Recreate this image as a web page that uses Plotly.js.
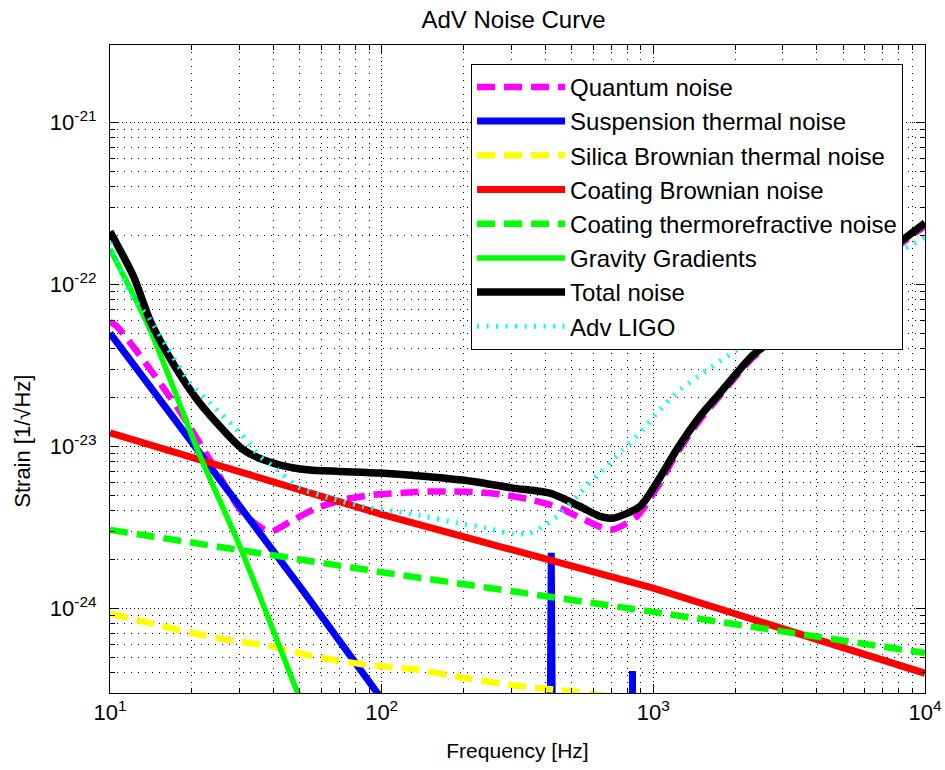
<!DOCTYPE html>
<html>
<head>
<meta charset="utf-8">
<script src="https://cdn.plot.ly/plotly-3.0.1.min.js"></script>
<style>
  html, body { margin: 0; padding: 0; background: #ffffff; }
  #chart { width: 945px; height: 770px; }
</style>
</head>
<body>
<div id="chart"></div>
<script>
// ---------------- data ----------------
const quantumFreq = [10, 10.6, 17.6, 23.3, 30.9, 38.8, 47.3, 57.6, 72.2, 93.1, 113.6, 146.4, 183.4, 230, 280, 354, 445.6, 541.4, 698, 868, 1028, 1218, 1484, 1758, 2026, 2333, 3000, 4000, 6000, 8000, 10000];
const quantumStrain = [5.87e-23, 5.5e-23, 1.76e-23, 8.26e-24, 3.87e-24, 2.98e-24, 3.52e-24, 4.15e-24, 4.67e-24, 5.02e-24, 5.14e-24, 5.26e-24, 5.26e-24, 5.19e-24, 5.02e-24, 4.68e-24, 4.2e-24, 3.61e-24, 3.05e-24, 3.68e-24, 5.5e-24, 9.0e-24, 1.46e-23, 2.05e-23, 2.73e-23, 3.55e-23, 4.9e-23, 7.1e-23, 1.2e-22, 1.74e-22, 2.29e-22];

const suspFreq = [10, 50.2, 96.4, 200, 413, 418, 421, 424, 429, 600, 832, 838, 844, 1000, 10000];
const suspStrain = [5.0e-23, 1.35e-24, 3.0e-25, 5.8e-26, 1.5e-26, 1.3e-24, 2.2e-24, 1.3e-24, 1.4e-26, 6.0e-27, 3.0e-27, 4.1e-25, 3.0e-27, 2.0e-27, 1.3e-29];

const silicaFreq = [10, 20, 28.4, 40, 54.7, 85.9, 133, 213, 326, 511, 700];
const silicaStrain = [9.3e-25, 7.05e-25, 6.3e-25, 5.8e-25, 5.1e-25, 4.5e-25, 4.2e-25, 3.66e-25, 3.3e-25, 3.06e-25, 2.85e-25];

const coatBrownFreq = [10, 100, 1000, 10000];
const coatBrownStrain = [1.21e-23, 3.8e-24, 1.33e-24, 3.97e-25];

const coatTRFreq = [10, 100, 1000, 10000];
const coatTRStrain = [3.05e-24, 1.67e-24, 9.5e-25, 5.3e-25];

const gravFreq = [10, 14, 21.4, 30.1, 48.7, 60];
const gravStrain = [1.65e-22, 5.3e-23, 8.8e-24, 2.4e-24, 3.1e-25, 1.3e-25];

const totalFreq = [10, 12.2, 14.0, 16.2, 18.6, 21.4, 31, 39.9, 52.9, 70.2, 98.5, 146, 217, 304, 416, 537, 636, 710, 893, 1028, 1218, 1484, 1758, 2026, 2333, 3000, 4000, 6000, 8000, 10000];
const totalStrain = [2.12e-22, 1.12e-22, 6.05e-23, 3.77e-23, 2.58e-23, 1.85e-23, 9.5e-24, 7.87e-24, 7.16e-24, 7.0e-24, 6.84e-24, 6.51e-24, 6.07e-24, 5.52e-24, 5.14e-24, 4.25e-24, 3.69e-24, 3.6e-24, 4.25e-24, 5.93e-24, 9.5e-24, 1.53e-23, 2.13e-23, 2.83e-23, 3.67e-23, 5.08e-23, 7.36e-23, 1.24e-22, 1.8e-22, 2.39e-22];

const advFreq = [10, 11.85, 14.03, 16.17, 19.7, 23.33, 30.1, 35.65, 39.9, 50.03, 64.5, 85.6, 113.5, 146.4, 188.8, 243.5, 304, 351.4, 392.5, 441.6, 537, 636, 772.7, 916, 1057, 1253, 1522, 1866, 2500, 4000, 6000, 8000, 10000];
const advStrain = [1.81e-22, 8.83e-23, 6.05e-23, 4.14e-23, 2.46e-23, 1.85e-23, 1.21e-23, 8.65e-24, 7.5e-24, 5.54e-24, 4.79e-24, 4.25e-24, 3.95e-24, 3.68e-24, 3.36e-24, 3.13e-24, 2.88e-24, 2.92e-24, 3.2e-24, 3.68e-24, 5.14e-24, 6.84e-24, 9.53e-24, 1.27e-23, 1.68e-23, 2.23e-23, 2.83e-23, 3.59e-23, 4.9e-23, 7.85e-23, 1.17e-22, 1.58e-22, 1.95e-22];

const seriesNames = ['Quantum noise', 'Suspension thermal noise', 'Silica Brownian thermal noise', 'Coating Brownian noise', 'Coating thermorefractive noise', 'Gravity Gradients', 'Total noise', 'Adv LIGO'];

const xTickVals = [10, 100, 1000, 10000];
const xTickText = ['10<sup>1</sup>', '10<sup>2</sup>', '10<sup>3</sup>', '10<sup>4</sup>'];
const yTickVals = [1e-24, 1e-23, 1e-22, 1e-21];
const yTickText = ['10<sup>-24</sup>', '10<sup>-23</sup>', '10<sup>-22</sup>', '10<sup>-21</sup>'];

const chartTitle = 'AdV Noise Curve';
const xTitle = 'Frequency [Hz]';
const yTitle = 'Strain [1/√Hz]';

// ---------------- minor tick positions (2..9 per decade) ----------------
function minorVals(lo, hi) {
  const out = [];
  for (let e = lo; e <= hi; e++) {
    for (let d = 2; d <= 9; d++) out.push(d * Math.pow(10, e));
  }
  return out;
}

const FONT = 'Liberation Sans, Arial, Helvetica, sans-serif';
const DASH = '18px,9px';

const styles = [
  {color: '#ff00ff', width: 6.5, dash: DASH, shape: 'spline'},
  {color: '#0000ff', width: 7, dash: 'solid', shape: 'linear'},
  {color: '#ffff00', width: 6.5, dash: DASH, shape: 'spline'},
  {color: '#ff0000', width: 7, dash: 'solid', shape: 'linear'},
  {color: '#00ff00', width: 6.5, dash: DASH, shape: 'linear'},
  {color: '#00ff00', width: 5.5, dash: 'solid', shape: 'spline'},
  {color: '#000000', width: 7.5, dash: 'solid', shape: 'spline'},
  {color: '#00ffff', width: 5, dash: '2px,7.5px', shape: 'spline'}
];
const xs = [quantumFreq, suspFreq, silicaFreq, coatBrownFreq, coatTRFreq, gravFreq, totalFreq, advFreq];
const ys = [quantumStrain, suspStrain, silicaStrain, coatBrownStrain, coatTRStrain, gravStrain, totalStrain, advStrain];

const traces = styles.map((s, i) => ({
  type: 'scatter',
  mode: 'lines',
  name: seriesNames[i],
  x: xs[i],
  y: ys[i],
  line: {color: s.color, width: s.width, dash: s.dash, shape: s.shape, smoothing: 0.7},
  legendgroup: 'g' + i,
  hoverinfo: 'x+y+name'
}));

const axisCommon = {
  type: 'log',
  showline: true,
  linecolor: '#000000',
  linewidth: 1,
  mirror: 'allticks',
  ticks: 'inside',
  ticklen: 9,
  tickwidth: 1,
  tickcolor: '#000000',
  showgrid: true,
  gridcolor: '#000000',
  gridwidth: 1,
  griddash: '1px,3px',
  zeroline: false,
  tickmode: 'array',
  tickfont: {family: FONT, size: 22, color: '#000000'},
  automargin: false
};

const layout = {
  width: 945,
  height: 770,
  margin: {l: 110, r: 20, t: 45, b: 77},
  paper_bgcolor: '#ffffff',
  plot_bgcolor: '#ffffff',
  font: {family: FONT, size: 21, color: '#000000'},
  title: {
    text: chartTitle,
    font: {family: FONT, size: 24, color: '#000000'},
    x: 0.5434, xanchor: 'center',
    y: 0.974, yanchor: 'middle'
  },
  xaxis: Object.assign({}, axisCommon, {
    range: [1, 4],
    tickvals: xTickVals,
    ticktext: xTickText,
    title: {text: xTitle, font: {family: FONT, size: 21, color: '#000000'}, standoff: 18},
    minor: {
      tickmode: 'array',
      tickvals: minorVals(1, 3),
      ticks: 'inside', ticklen: 5, tickcolor: '#000000', tickwidth: 1,
      showgrid: true, gridcolor: '#000000', gridwidth: 1, griddash: '1px,6px'
    }
  }),
  yaxis: Object.assign({}, axisCommon, {
    range: [Math.log10(3e-25), Math.log10(3e-21)],
    tickvals: yTickVals,
    ticktext: yTickText,
    ticklabelstandoff: 8,
    title: {text: ''},
    minor: {
      tickmode: 'array',
      tickvals: minorVals(-25, -22),
      ticks: 'inside', ticklen: 5, tickcolor: '#000000', tickwidth: 1,
      showgrid: true, gridcolor: '#000000', gridwidth: 1, griddash: '1px,6px'
    }
  }),
  annotations: [{
    text: yTitle,
    xref: 'paper', yref: 'paper',
    x: -0.107, y: 0.389,
    xanchor: 'center', yanchor: 'middle',
    textangle: -90,
    showarrow: false,
    font: {family: FONT, size: 22, color: '#000000'}
  }],
  showlegend: true,
  legend: {
    x: 0.443, xanchor: 'left',
    y: 0.971, yanchor: 'top',
    bgcolor: '#ffffff',
    bordercolor: '#000000',
    borderwidth: 1,
    font: {family: FONT, size: 24, color: '#000000'},
    itemwidth: 88,
    tracegroupgap: 4,
    traceorder: 'normal'
  }
};

Plotly.newPlot('chart', traces, layout, {displayModeBar: false});
</script>
</body>
</html>
